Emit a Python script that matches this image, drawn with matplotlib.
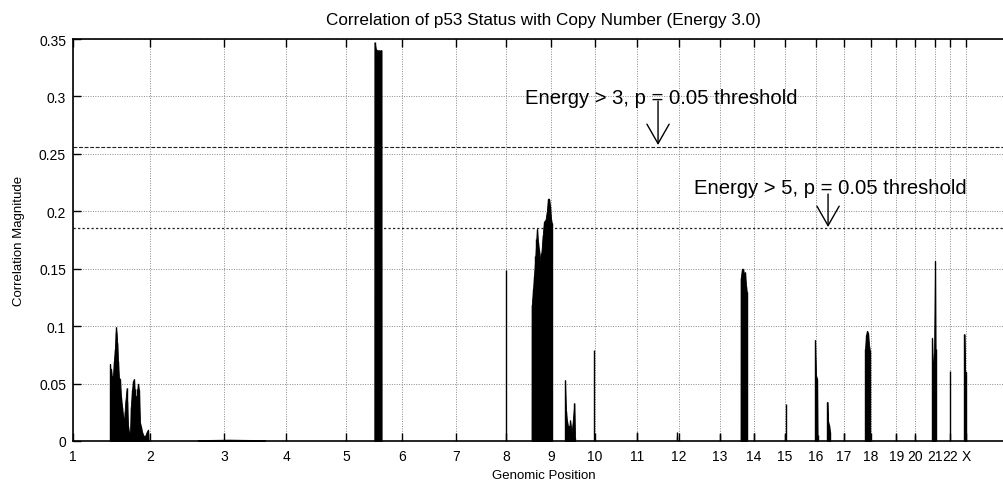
import matplotlib
matplotlib.use("Agg")
import matplotlib.pyplot as plt
import numpy as np

plt.rcParams['font.family'] = ['Liberation Sans', 'DejaVu Sans']

# Chromosome start positions (Mb, cumulative) and labels
chrom_labels = ["1", "2", "3", "4", "5", "6", "7", "8", "9", "10", "11", "12",
                "13", "14", "15", "16", "17", "18", "19", "20", "21", "22", "X"]
chrom_starts = [0, 246, 483, 682, 874, 1053, 1226, 1386, 1530, 1670, 1805, 1939,
                2070, 2179, 2278, 2378, 2467, 2554, 2634, 2694, 2758, 2806, 2858]
genome_end = 3011

# Correlation magnitude, grouped by region (position Mb, value)
chr1_pos = [118, 118.4, 120, 121.6, 124, 128, 131, 134, 137.6, 139, 141.8, 144, 147,
            150.4, 153.6, 157, 160, 163.2, 165, 168, 171.8, 173, 176, 179, 182.4,
            185, 188.8, 192, 195.2, 197, 199.4, 203.8, 206, 208, 211.2, 214.4, 218,
            220.8, 225, 230, 236, 240, 242]
chr1_val = [0, 0.067, 0.060, 0.063, 0.056, 0.057, 0.070, 0.080, 0.099, 0.095, 0.085,
            0.070, 0.055, 0.054, 0.038, 0.030, 0.022, 0.016, 0.025, 0.036, 0.046,
            0.035, 0.013, 0.008, 0.006, 0.030, 0.044, 0.052, 0.054, 0.045, 0.039,
            0.039, 0.045, 0.050, 0.044, 0.016, 0.012, 0.008, 0.005, 0.004, 0.008,
            0.010, 0]

chr23_pos = [400, 450, 500, 550, 614]
chr23_val = [0.0008, 0.001, 0.0012, 0.001, 0.0008]

chr5_pos = [964.5, 964.8, 966.4, 969, 972.8, 976, 980, 984, 986.6, 987]
chr5_val = [0, 0.347, 0.345, 0.341, 0.340, 0.340, 0.340, 0.340, 0.340, 0]

chr8q_pos = [1467.5, 1467.8, 1472, 1475.2, 1479.4, 1482.6, 1484.8, 1488, 1491.2,
             1495.4, 1498.6, 1503, 1507.2, 1511.4, 1515.8, 1520, 1523.2, 1526.4,
             1529.6, 1531.8, 1532]
chr8q_val = [0, 0.118, 0.132, 0.144, 0.161, 0.176, 0.185, 0.173, 0.166, 0.157,
             0.164, 0.179, 0.191, 0.192, 0.199, 0.211, 0.211, 0.205, 0.193, 0.190, 0]

chr9_pos = [1574, 1574.4, 1577.6, 1580.8, 1584, 1588.8, 1590.4, 1595.8, 1604.2, 1606.4]
chr9_val = [0, 0.053, 0.026, 0.017, 0.013, 0.013, 0.018, 0.008, 0.033, 0.003]

chr13_pos = [2136.3, 2136.6, 2140.8, 2144, 2147.2, 2150.4, 2153.6, 2155.8, 2156]
chr13_val = [0, 0.142, 0.150, 0.150, 0.145, 0.147, 0.135, 0.130, 0]

chr16_pos = [2374.2, 2374.4, 2377.6, 2380.8, 2382.4]
chr16_val = [0, 0.088, 0.057, 0.054, 0.005]

chr16b_pos = [2413.6, 2413.8, 2416, 2419.2, 2422.4]
chr16b_val = [0, 0.034, 0.017, 0.014, 0.008]

chr18_pos = [2534.2, 2534.4, 2537.6, 2540.8, 2544, 2547.2, 2550.4, 2550.6]
chr18_val = [0, 0.080, 0.092, 0.096, 0.094, 0.083, 0.078, 0]

chr21_pos = [2748.6, 2748.8, 2752, 2755.2, 2758.4, 2760, 2760.2]
chr21_val = [0, 0.090, 0.060, 0.076, 0.157, 0.080, 0]

chrX_pos = [2852, 2852.2, 2854.4, 2857.6, 2857.8]
chrX_val = [0, 0.093, 0.061, 0.060, 0]

# isolated single-probe spikes
spike_pos = [1386.5, 1667.2, 1804.8, 1931.8, 1934, 2070.4, 2179.2, 2278.4, 2281.6,
             2467.2, 2633.6, 2694.4, 2806.4]
spike_val = [0.149, 0.079, 0.008, 0.0075, 0.004, 0.006, 0.007, 0.006, 0.032,
             0.007, 0.006, 0.005, 0.061]

thr_energy3 = 0.2557
thr_energy5 = 0.1854

regions = [(chr1_pos, chr1_val), (chr23_pos, chr23_val), (chr5_pos, chr5_val),
           (chr8q_pos, chr8q_val), (chr9_pos, chr9_val), (chr13_pos, chr13_val),
           (chr16_pos, chr16_val), (chr16b_pos, chr16b_val),
           (chr18_pos, chr18_val), (chr21_pos, chr21_val), (chrX_pos, chrX_val)]

fig = plt.figure(figsize=(10.04, 4.81), dpi=100)
ax = fig.add_axes([73 / 1004, 39 / 481, (1014 - 73) / 1004, 402 / 481])

ax.set_xlim(0, genome_end)
ax.set_ylim(0, 0.35)

# grid
yt = np.arange(0, 0.351, 0.05)
ax.set_yticks(yt)
ax.set_yticklabels(["0", "0.05", "0.1", "0.15", "0.2", "0.25", "0.3", "0.35"])
ax.set_xticks(chrom_starts)
ax.set_xticklabels(chrom_labels)
ax.grid(True, color='#8a8a8a', linestyle=(0, (1, 1.5)), linewidth=0.7)
ax.set_axisbelow(True)

# thresholds
ax.axhline(thr_energy3, color='#222222', linestyle=(0, (3.5, 1.5)), linewidth=0.8)
ax.axhline(thr_energy5, color='#222222', linestyle=(0, (1.8, 1.8)), linewidth=0.9)

# signal
for pos, val in regions:
    ax.fill_between(pos, val, 0, color='black', linewidth=0.6)
    ax.vlines(pos, 0, val, color='black', linewidth=1.0)
ax.vlines(spike_pos, 0, spike_val, color='black', linewidth=1.0)

ax.tick_params(axis='both', direction='in', length=6, width=1, labelsize=10, pad=6,
               top=True, right=False)
ax.tick_params(axis='y', pad=5)
for s in ['top', 'bottom', 'left']:
    ax.spines[s].set_linewidth(1.2)
ax.spines['right'].set_visible(False)

ax.set_title("Correlation of p53 Status with Copy Number (Energy 3.0)", fontsize=12.3, pad=11)
ax.set_xlabel("Genomic Position", fontsize=9.5, labelpad=4)
ax.set_ylabel("Correlation Magnitude", fontsize=9.5, labelpad=10)

# annotations
ax.text(1446, 0.2995, "Energy > 3, p = 0.05 threshold", fontsize=14.6, va='center', ha='left')
ax.annotate("", xy=(1872, 0.2577), xytext=(1872, 0.296),
            arrowprops=dict(arrowstyle='->,head_length=1.4,head_width=0.8',
                            lw=1.0, color='black', mutation_scale=10,
                            shrinkA=0, shrinkB=0))
ax.text(1987, 0.2211, "Energy > 5, p = 0.05 threshold", fontsize=14.6, va='center', ha='left')
ax.annotate("", xy=(2416, 0.1863), xytext=(2416, 0.215),
            arrowprops=dict(arrowstyle='->,head_length=1.4,head_width=0.8',
                            lw=1.0, color='black', mutation_scale=10,
                            shrinkA=0, shrinkB=0))

fig.savefig("out.png", dpi=100)
